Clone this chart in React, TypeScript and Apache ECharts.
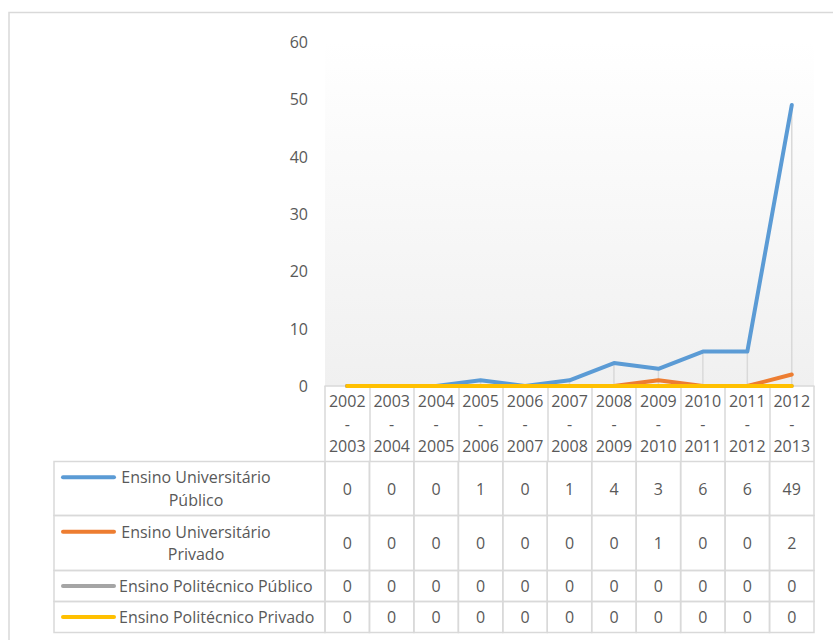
import React, { useEffect, useRef } from "react";
import * as echarts from "echarts";

const categories = [
  "2002-2003", "2003-2004", "2004-2005", "2005-2006", "2006-2007", "2007-2008",
  "2008-2009", "2009-2010", "2010-2011", "2011-2012", "2012-2013",
];
const seriesNames = [
  "Ensino Universitário Público",
  "Ensino Universitário Privado",
  "Ensino Politécnico Público",
  "Ensino Politécnico Privado",
];
const uniPublic = [0, 0, 0, 1, 0, 1, 4, 3, 6, 6, 49];
const uniPrivate = [0, 0, 0, 0, 0, 0, 0, 1, 0, 0, 2];
const polyPublic = [0, 0, 0, 0, 0, 0, 0, 0, 0, 0, 0];
const polyPrivate = [0, 0, 0, 0, 0, 0, 0, 0, 0, 0, 0];
const seriesValues = [uniPublic, uniPrivate, polyPublic, polyPrivate];
const yTicks = { min: 0, max: 60, interval: 10 };

const COLORS = ["#5B9BD5", "#ED7D31", "#A5A5A5", "#FFC000"];
const FONT = '"Open Sans", "Noto Sans", sans-serif';
const FS = 16;
const TEXT = "#595959";
const LINE = "#d9d9d9";
const ROWS = [
  { top: 461.5, h: 54 },
  { top: 515.5, h: 55 },
  { top: 570.5, h: 31 },
  { top: 601.5, h: 31 },
];
const TABLE_LEFT = 54;
const PLOT_LEFT = 325;

export default function App() {
  const ref = useRef<HTMLDivElement>(null);
  useEffect(() => {
    if (!ref.current) return;
    const chart = echarts.init(ref.current, null, { renderer: "svg" });

    const tableData: number[][] = [];
    seriesValues.forEach((vals, ri) => vals.forEach((v, ci) => tableData.push([ci, ri, v])));
    const dropData = categories.map((_, ci) => [ci, Math.max(...seriesValues.map((s) => s[ci]))]);

    const legendGraphics: any[] = [];
    seriesNames.forEach((name, ri) => {
      const r = ROWS[ri];
      const label = name.replace("Universitário ", "Universitário\n");
      const multi = label.includes("\n");
      const cy = r.top + r.h / 2;
      const lineY = multi ? cy - 11.25 : cy;
      legendGraphics.push({
        type: "rect",
        shape: { x: TABLE_LEFT, y: r.top, width: PLOT_LEFT - TABLE_LEFT, height: r.h },
        style: { fill: "none", stroke: LINE, lineWidth: 1.5 },
      });
      legendGraphics.push({
        type: "line",
        shape: { x1: 63, y1: lineY, x2: 114, y2: lineY },
        style: { stroke: COLORS[ri], lineWidth: 4, lineCap: "round" },
      });
      legendGraphics.push({
        type: "text",
        style: {
          text: label,
          x: multi ? 196 : 119,
          y: cy,
          align: multi ? "center" : "left",
          verticalAlign: "middle",
          fill: TEXT,
          fontSize: FS,
          fontFamily: FONT,
          lineHeight: 22.5,
        },
      });
    });

    chart.setOption({
      animation: false,
      backgroundColor: "#ffffff",
      textStyle: { fontFamily: FONT },
      grid: {
        left: PLOT_LEFT,
        right: 19,
        top: 42,
        bottom: 254,
        show: true,
        borderWidth: 0,
        backgroundColor: new echarts.graphic.LinearGradient(0, 0, 0, 1, [
          { offset: 0, color: "#ffffff" },
          { offset: 1, color: "#f0f0f0" },
        ]),
      },
      xAxis: {
        type: "category",
        data: categories,
        boundaryGap: true,
        axisLine: { show: true, lineStyle: { color: LINE, width: 1.5 } },
        axisTick: { show: true, length: 75, lineStyle: { color: LINE, width: 1.5 } },
        axisLabel: {
          interval: 0,
          margin: 4,
          color: TEXT,
          fontSize: FS,
          fontFamily: FONT,
          lineHeight: 22.5,
          formatter: (v: string) => v.replace("-", "\n-\n"),
        },
        splitLine: { show: false },
      },
      yAxis: {
        type: "value",
        min: yTicks.min,
        max: yTicks.max,
        interval: yTicks.interval,
        axisLine: { show: false },
        axisTick: { show: false },
        splitLine: { show: false },
        axisLabel: { color: TEXT, fontSize: FS, fontFamily: FONT, margin: 17 },
      },
      graphic: [
        {
          type: "rect",
          shape: { x: 9, y: 12.5, width: 860, height: 660 },
          style: { fill: "none", stroke: LINE, lineWidth: 1.5 },
        },
        ...legendGraphics,
      ],
      series: [
        {
          type: "custom",
          name: "drop",
          z: 1,
          data: dropData,
          renderItem: (params: any, api: any) => {
            const v = api.value(1);
            if (!(v > 0)) return null;
            const p1 = api.coord([api.value(0), v]);
            const p0 = api.coord([api.value(0), 0]);
            return {
              type: "line",
              shape: { x1: p1[0], y1: p1[1], x2: p0[0], y2: p0[1] },
              style: { stroke: LINE, lineWidth: 1.5 },
            };
          },
        },
        ...seriesValues.map((vals, i) => ({
          type: "line",
          name: seriesNames[i],
          data: vals,
          symbol: "none",
          z: 3 + i,
          lineStyle: { color: COLORS[i], width: 4, cap: "round", join: "round" },
          itemStyle: { color: COLORS[i] },
        })),
        {
          type: "custom",
          name: "table",
          z: 2,
          clip: false,
          data: tableData,
          renderItem: (params: any, api: any) => {
            const ci = api.value(0);
            const ri = api.value(1);
            const v = api.value(2);
            const cx = api.coord([ci, 0])[0];
            const w = api.size([1, 0])[0];
            const r = ROWS[ri];
            return {
              type: "group",
              children: [
                {
                  type: "rect",
                  shape: { x: cx - w / 2, y: r.top, width: w, height: r.h },
                  style: { fill: "none", stroke: LINE, lineWidth: 1.5 },
                },
                {
                  type: "text",
                  style: {
                    text: String(v),
                    x: cx,
                    y: r.top + r.h / 2,
                    align: "center",
                    verticalAlign: "middle",
                    fill: TEXT,
                    fontSize: FS,
                    fontFamily: FONT,
                  },
                },
              ],
            };
          },
        },
      ],
    });
    return () => chart.dispose();
  }, []);
  return (
    <div
      ref={ref}
      style={{ position: "absolute", left: 0, top: 0, width: 833, height: 640 }}
    />
  );
}
